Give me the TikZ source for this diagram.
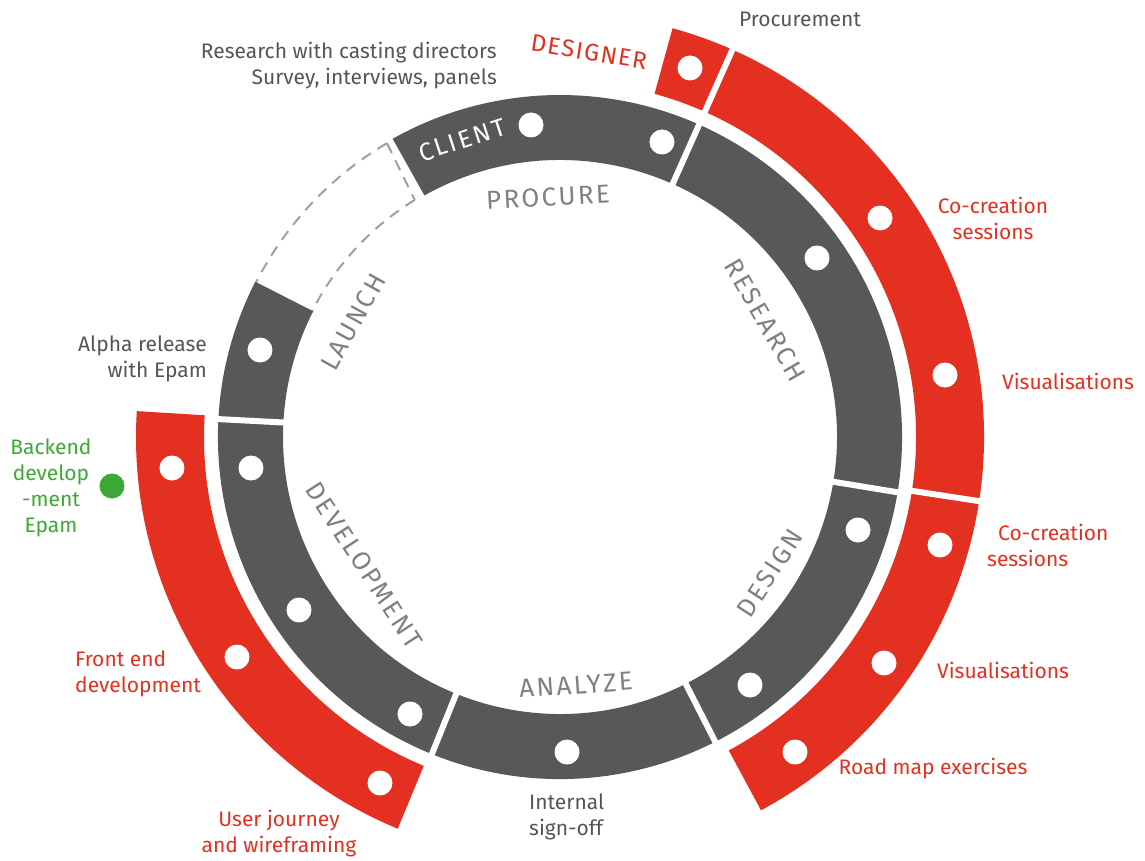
\documentclass[tikz,border=0pt]{standalone}
\usepackage{fontspec}
\setmainfont{Fira Sans}
\newfontfamily\spacedfont[LetterSpace=9]{Fira Sans}
\newfontfamily\clientfont[LetterSpace=10]{Fira Sans}
\newfontfamily\designerfont[LetterSpace=6]{Fira Sans}
\definecolor{ringgray}{HTML}{585856}
\definecolor{ringred}{HTML}{E33020}
\definecolor{labgray}{HTML}{808080}
\definecolor{txtgray}{HTML}{555555}
\definecolor{grn}{HTML}{3BA935}
\definecolor{dashgray}{HTML}{A0A0A0}
\tikzset{
  outtxt/.style={font=\fontsize{21}{26}\selectfont, text=txtgray, inner sep=0pt},
  redtxt/.style={outtxt, text=ringred},
  grntxt/.style={outtxt, text=grn},
  phase/.style={font=\spacedfont\fontsize{26}{30}\selectfont, text=labgray, inner sep=0pt},
  gapline/.style={draw=white, line width=6pt},
  dashline/.style={draw=dashgray, line width=2pt, dash pattern=on 11pt off 8pt},
}
\begin{document}
\begin{tikzpicture}[x=1pt,y=1pt]
\useasboundingbox (-560,-423) rectangle (585,437);
% dashed placeholder (launch -> client)
\draw[dashline] (120.5:341pt) arc[start angle=120.5, end angle=153.5, radius=341pt];
\draw[dashline] (121.5:278pt) arc[start angle=121.5, end angle=153.5, radius=278pt];
\draw[dashline] (120.5:341pt) -- (121.5:278pt);
% gray ring
\fill[ringgray] (119.3:277pt) arc[start angle=119.3, end angle=-207, radius=277pt]
  -- (-207:342pt) arc[start angle=-207, end angle=119.3, radius=342pt] -- cycle;
% red ring
\fill[ringred] (74.6:356pt) arc[start angle=74.6, end angle=-61.7, radius=356pt]
  -- (-61.7:424pt) arc[start angle=-61.7, end angle=74.6, radius=424pt] -- cycle;
\fill[ringred] (176.5:356pt) arc[start angle=176.5, end angle=247.5, radius=356pt]
  -- (247.5:424pt) arc[start angle=247.5, end angle=176.5, radius=424pt] -- cycle;
% gaps
\foreach \a in {66,-9.3,-63,-112,177} \draw[gapline] (\a:270pt) -- (\a:349pt);
\foreach \a in {66,-8.7} \draw[gapline] (\a:349pt) -- (\a:432pt);
% white dots on gray ring
\foreach \p in {(-29,312),(102,295),(257,179),(298,-93),(190,-248),(7,-315),(-309,-31),(-261,-173),(-150,-277),(-300,87)}
  \fill[white] \p circle[radius=12.5pt];
% white dots on red ring
\foreach \p in {(130,369),(320,219),(385,62),(380,-108),(324,-226),(235,-315),(-388,-31),(-323,-220),(-180,-346)}
  \fill[white] \p circle[radius=12.5pt];
% green dot
\fill[grn] (-448,-49) circle[radius=12.5pt];
% ring labels
\node[font=\clientfont\fontsize{25}{28}\selectfont, text=white, inner sep=0pt, rotate=18] (client) at (-98,297) {CLIENT};
\node[phase, rotate=3] (procure) at (-12,240) {PROCURE};
\node[phase, rotate=-60] (research) at (205,117) {RESEARCH};
\node[phase, rotate=57] (design) at (210,-136) {DESIGN};
\node[phase, rotate=4] (analyze) at (16,-248) {ANALYZE};
\node[phase, rotate=-57] (development) at (-196,-128) {DEVELOPMENT};
\node[phase, rotate=61] (launch) at (-207,115) {LAUNCH};
% outside labels
\node[outtxt, align=right, anchor=east] (casting) at (-63,371) {Research with casting directors\\Survey, interviews, panels};
\node[redtxt, font=\designerfont\fontsize{24}{28}\selectfont, rotate=-9] (designer) at (29,385) {DESIGNER};
\node[outtxt] (procurement) at (240,418) {Procurement};
\node[redtxt, align=center] (cocreation1) at (433,219) {Co-creation\\sessions};
\node[redtxt] (visual1) at (508,56) {Visualisations};
\node[redtxt, align=left, anchor=west] (cocreation2) at (427,-108) {\hspace*{11pt}Co-creation\\sessions};
\node[redtxt] (visual2) at (443,-233) {Visualisations};
\node[redtxt] (roadmap) at (373,-332) {Road map exercises};
\node[outtxt, align=left, anchor=west] (signoff) at (-31,-380) {Internal\\sign-off};
\node[redtxt, align=center] (userjourney) at (-281,-397) {User journey\\and wireframing};
\node[redtxt, align=left, anchor=west] (frontend) at (-485,-237) {Front end\\development};
\node[grntxt, align=center] (backend) at (-509,-51) {Backend\\develop\\-ment\\Epam};
\node[outtxt, align=right, anchor=east] (alpha) at (-353,78) {Alpha release\\with Epam};
\end{tikzpicture}
\end{document}
